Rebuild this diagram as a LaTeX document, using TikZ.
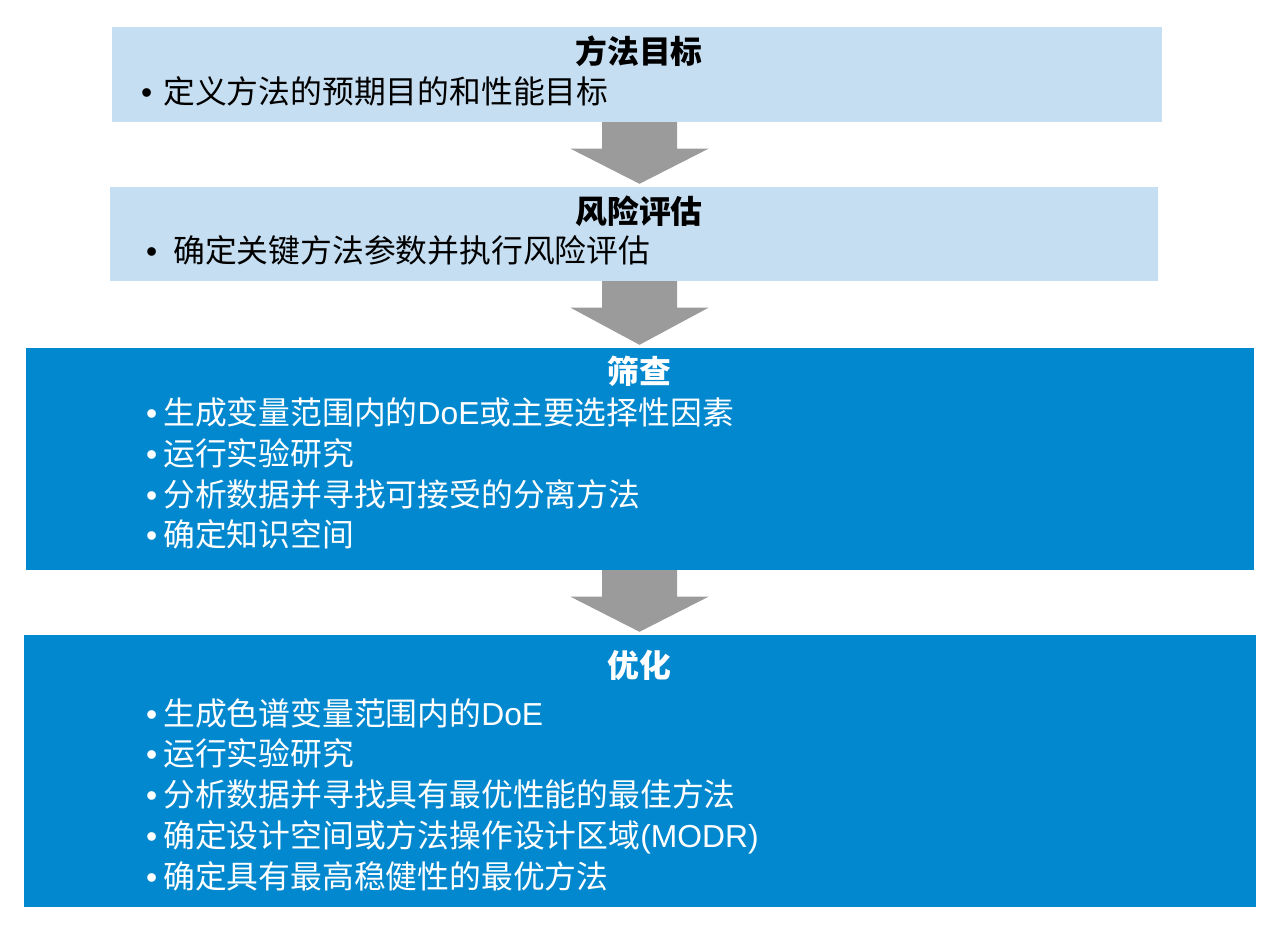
\documentclass[tikz,border=0pt]{standalone}
\usepackage{fontspec}
\setmainfont{Noto Sans CJK SC}
\newfontfamily\latf{Liberation Sans}
\usetikzlibrary{calc}

\definecolor{paleblue}{HTML}{C6DEF1}
\definecolor{deepblue}{HTML}{0288CE}
\definecolor{arrowgray}{HTML}{9B9B9B}

\newcommand{\itm}[1][6pt]{{\latf\textbullet}\hspace{#1}}

\tikzset{
  stagebox/.style={rectangle, inner sep=0pt},
  headtext/.style={anchor=base, font=\fontsize{31.8}{40}\selectfont\bfseries},
  itemtext/.style={anchor=base west, inner sep=0pt, font=\fontsize{31.8}{40}\selectfont},
}

\begin{document}
\begin{tikzpicture}[x=1pt, y=-1pt]
    \useasboundingbox (0,0) rectangle (1280,933);

    % stages
    \node[stagebox, fill=paleblue, minimum width=1050pt, minimum height=95pt] (goal) at (637,74.5) {};
    \node[stagebox, fill=paleblue, minimum width=1048pt, minimum height=94pt] (risk) at (634,234) {};
    \node[stagebox, fill=deepblue, minimum width=1228pt, minimum height=222pt] (screen) at (640,459) {};
    \node[stagebox, fill=deepblue, minimum width=1232pt, minimum height=272pt] (optim) at (640,771) {};

    % titles
    \node[headtext] (goalT) at (639,64) {方法目标};
    \node[headtext] (riskT) at (639,224) {风险评估};
    \node[headtext, text=white] (screenT) at (639,384) {筛查};
    \node[headtext, text=white] (optimT) at (639,677) {优化};

    % bullet lines
    \node[itemtext] (goal1) at (141,104) {\itm[11pt]定义方法的预期目的和性能目标};
    \node[itemtext] (risk1) at (146,263) {\itm[16pt]确定关键方法参数并执行风险评估};
    \foreach \t [count=\i] in {{生成变量范围内的{\latf DoE}或主要选择性因素},{运行实验研究},{分析数据并寻找可接受的分离方法},{确定知识空间}}
      \node[itemtext, text=white] (screen\i) at (146,384+40.7*\i) {\itm\t};
    \foreach \t [count=\i] in {{生成色谱变量范围内的{\latf DoE}},{运行实验研究},{分析数据并寻找具有最优性能的最佳方法},{确定设计空间或方法操作设计区域{\latf(MODR)}},{确定具有最高稳健性的最优方法}}
      \node[itemtext, text=white] (optim\i) at (146,684.5+40.7*\i) {\itm\t};

    % block arrows between stages
    \coordinate (mid) at (639.5,0);
    \foreach \u/\v in {goal/risk, risk/screen, screen/optim}
      \fill[arrowgray] ($(\u.south -| mid)+(-37.5,0)$) -- ++(75,0) -- ++(0,26.5) -- ++(31.5,0)
        -- ($(\v.north -| mid)+(0,-3)$) -- ($(\u.south -| mid)+(-69,26.5)$) -- ++(31.5,0) -- cycle;
\end{tikzpicture}
\end{document}
